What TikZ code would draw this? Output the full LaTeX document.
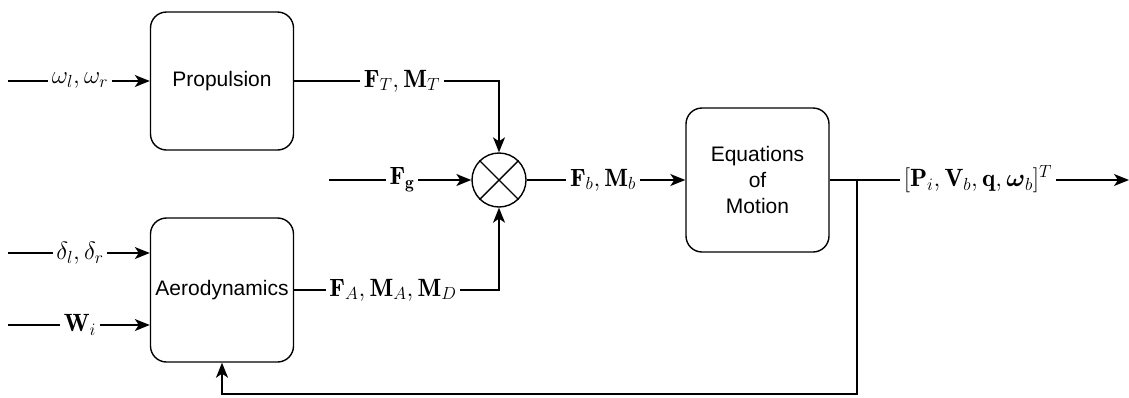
\documentclass[tikz,border=0pt]{standalone}
\usepackage{fix-cm}
\usepackage{amsmath}
\usepackage{fontspec}
\newfontfamily\boxfont{Liberation Sans}
\usetikzlibrary{arrows.meta,shapes.geometric,calc}
\begin{document}
\begin{tikzpicture}[x=1pt,y=-1pt,
  line width=1.4pt,
  every node/.style={font=\fontsize{25}{30}\selectfont},
  blk/.style={draw,rounded corners=16pt,minimum width=143pt,inner sep=0pt,align=center,font=\boxfont\fontsize{21}{26}\selectfont},
  lbl/.style={inner sep=3pt},
  arr/.style={-{Stealth[length=15pt,width=12pt,inset=4pt]}},
  sumnode/.style={draw,circle,minimum size=54pt,inner sep=0pt}]
\useasboundingbox (0,0) rectangle (1129,397);
% blocks
\node[blk,minimum height=138pt] (prop) at (222,81) {Propulsion};
\node[blk,minimum height=144pt] (aero) at (222,290) {Aerodynamics};
\node[blk,minimum height=144pt] (eom) at (757.5,180) {Equations\\of\\Motion};
\node[sumnode] (sum) at (499,180) {};
\draw (sum.north east) -- (sum.south west) (sum.north west) -- (sum.south east);
% labels
\node[lbl] (lw) at (80,81) {$\omega_l,\omega_r$};
\node[lbl] (ld) at (80,253) {$\delta_l,\delta_r$};
\node[lbl] (lW) at (80,325) {$\mathbf{W}_i$};
\node[lbl] (lFT) at (402,81) {$\mathbf{F}_T,\mathbf{M}_T$};
\node[lbl] (lFg) at (402,180) {$\mathbf{F}_\mathbf{g}$};
\node[lbl] (lFA) at (393,290) {$\mathbf{F}_A,\mathbf{M}_A,\mathbf{M}_D$};
\node[lbl] (lFb) at (603,180) {$\mathbf{F}_b,\mathbf{M}_b$};
\node[lbl] (lout) at (978,179) {$[\mathbf{P}_i,\mathbf{V}_b,\mathbf{q},\boldsymbol{\omega}_b]^T$};
% free ends
\coordinate (sw) at (8,81);
\coordinate (sd) at (8,253);
\coordinate (sW) at (8,325);
\coordinate (sg) at (329,180);
\coordinate (oend) at (1129,180);
\coordinate (br) at (857,180);
\coordinate (fb) at (857,394);
% connectors
\draw (sw) -- (lw.west);
\draw[arr] (lw.east) -- (prop.west |- lw.east);
\draw (sd) -- (ld.west);
\draw[arr] (ld.east) -- (aero.west |- ld.east);
\draw (sW) -- (lW.west);
\draw[arr] (lW.east) -- (aero.west |- lW.east);
\draw (prop.east |- lFT.west) -- (lFT.west);
\draw[arr] (lFT.east) -| (sum.north);
\draw (sg) -- (lFg.west);
\draw[arr] (lFg.east) -- (sum.west);
\draw (aero.east |- lFA.west) -- (lFA.west);
\draw[arr] (lFA.east) -| (sum.south);
\draw (sum.east) -- (lFb.west);
\draw[arr] (lFb.east) -- (eom.west |- lFb.east);
\draw (eom.east) -- (lout.west |- eom.east);
\draw[arr] (lout.east |- oend) -- (oend);
\draw[arr] (br) -- (fb) -| (aero.south);
\end{tikzpicture}
\end{document}
